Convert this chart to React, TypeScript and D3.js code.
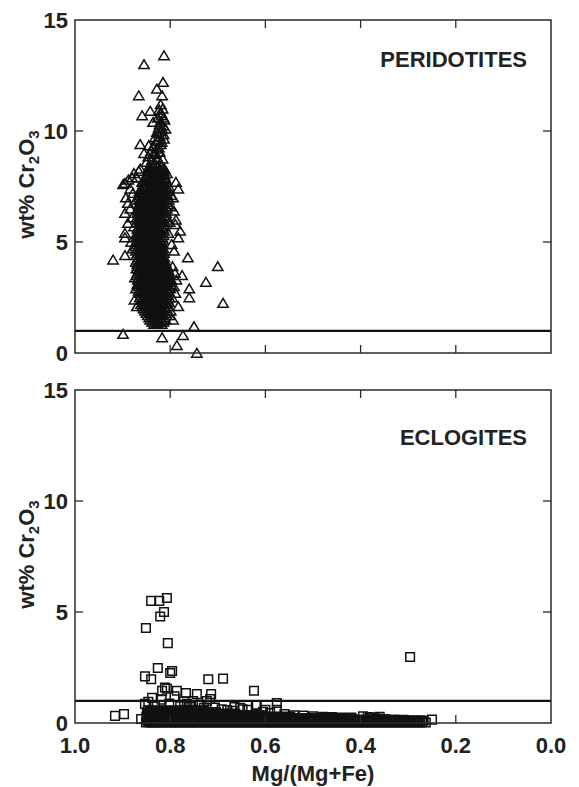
import React from "react";
import * as d3 from "d3";

const xTicks = [1.0, 0.8, 0.6, 0.4, 0.2, 0.0];
const yTicks = [0, 5, 10, 15];
const crThreshold = 1;
const panelLabels = ["PERIDOTITES", "ECLOGITES"];

// [Mg/(Mg+Fe), wt% Cr2O3] – individually read points
const peridotites: [number, number][] = [
  [.813,13.4],[.855,13.0],[.815,12.2],[.828,11.9],[.866,11.6],[.817,11.6],[.820,11.2],[.816,11.0],[.823,10.95],[.842,10.9],
  [.859,10.7],[.818,10.7],[.826,10.6],[.812,10.5],[.821,10.4],[.836,10.4],[.815,10.25],[.824,10.15],[.810,10.1],[.819,10.0],
  [.828,9.95],[.814,9.85],[.822,9.75],[.832,9.7],[.826,9.55],[.818,9.5],[.863,9.4],[.836,9.3],[.845,9.35],[.829,9.2],
  [.855,9.0],[.840,9.1],[.822,9.05],[.834,8.95],[.846,8.85],[.827,8.8],[.816,8.75],[.838,8.7],[.850,8.6],[.863,8.3],
  [.821,8.55],[.831,8.5],[.843,8.45],[.807,8.1],[.812,8.3],[.880,7.9],[.895,7.65],[.893,7.0],[.788,7.7],[.783,7.4],
  [.889,6.75],[.895,6.3],[.889,5.85],[.895,5.4],[.895,5.2],[.895,4.4],[.920,4.2],[.763,4.3],[.700,3.9],[.725,3.2],
  [.689,2.25],[.760,2.5],[.760,2.9],[.775,3.5],[.783,5.2],[.779,5.5],[.788,6.0],[.794,7.0],[.783,2.1],[.794,1.5],
  [.750,1.2],[.773,0.8],[.817,0.7],[.899,0.85],[.786,0.35],[.744,0.0],[.828,1.35],
  [.899,7.6],[.888,7.8],[.876,8.1],[.884,7.4],[.870,7.9],[.866,8.2],[.878,7.2],[.872,6.9],[.884,6.5],[.880,6.1],
  [.876,5.7],[.882,5.0],[.879,4.7],[.792,6.4],[.789,5.8],
  [.797,4.9],[.792,4.6],[.795,3.9],[.790,3.6],[.787,3.3],[.792,3.0],[.789,2.7],[.796,2.5],[.799,1.9],[.801,1.7],
  [.874,3.4],[.872,2.9],[.875,2.4],[.870,2.1],[.800,6.6],[.803,7.5],[.798,7.1],[.801,5.9],[.804,5.4],
  [.819,10.8],[.814,10.6],[.822,10.3],[.817,10.1],[.825,9.9],[.813,9.65],[.820,9.4],[.828,9.6],[.824,9.25],[.831,9.0],
];

// dense core of the peridotite cloud: [wt% Cr2O3, Mg/(Mg+Fe) values]
const peridotiteCoreRows: [number, number[]][] = [
  [8.4, [.818,.826,.835,.842]],
  [8.3, [.816,.823,.831,.839,.846]],
  [8.2, [.814,.822,.829,.838,.846]],
  [8.1, [.813,.818,.825,.832,.839,.847]],
  [8.0, [.812,.820,.827,.834,.841,.850]],
  [7.9, [.811,.820,.828,.836,.844,.852]],
  [7.8, [.809,.817,.825,.831,.839,.847,.856]],
  [7.7, [.808,.815,.822,.829,.837,.844,.852,.859]],
  [7.6, [.811,.818,.824,.833,.840,.848,.857]],
  [7.5, [.808,.814,.820,.827,.835,.843,.851,.858]],
  [7.4, [.806,.815,.822,.829,.836,.845,.853,.861]],
  [7.3, [.804,.811,.819,.826,.834,.841,.849,.858,.864]],
  [7.2, [.808,.816,.823,.830,.838,.846,.855,.863]],
  [7.1, [.806,.812,.819,.826,.834,.842,.850,.857,.865]],
  [7.0, [.805,.813,.821,.828,.835,.843,.851,.860,.866]],
  [6.9, [.803,.810,.817,.825,.833,.840,.848,.856,.864]],
  [6.8, [.807,.815,.822,.830,.837,.845,.853,.862]],
  [6.7, [.805,.812,.820,.828,.835,.843,.851,.859,.866]],
  [6.6, [.809,.817,.824,.832,.839,.847,.855,.864]],
  [6.5, [.807,.814,.822,.829,.837,.845,.853,.861,.868]],
  [6.4, [.811,.818,.826,.833,.841,.849,.858,.866]],
  [6.3, [.809,.816,.823,.830,.838,.846,.854,.862,.869]],
  [6.2, [.812,.820,.827,.835,.842,.850,.859,.867]],
  [6.1, [.810,.818,.825,.832,.840,.848,.856,.864,.870]],
  [6.0, [.814,.821,.828,.836,.844,.852,.860,.868]],
  [5.9, [.811,.818,.826,.834,.841,.849,.857,.865]],
  [5.8, [.813,.822,.830,.837,.845,.853,.861]],
  [5.7, [.812,.819,.827,.834,.842,.850,.858,.866]],
  [5.6, [.815,.823,.831,.838,.846,.854,.862,.869]],
  [5.5, [.813,.820,.828,.836,.843,.851,.859,.867]],
  [5.4, [.816,.824,.832,.839,.847,.855,.863,.870]],
  [5.3, [.814,.821,.829,.837,.844,.852,.860,.868]],
  [5.2, [.817,.825,.833,.841,.848,.856,.864,.871]],
  [5.1, [.815,.822,.830,.838,.845,.853,.861,.869]],
  [5.0, [.818,.826,.834,.842,.849,.857,.865,.872]],
  [4.9, [.815,.823,.831,.839,.846,.854,.862,.870]],
  [4.8, [.819,.827,.835,.843,.850,.858,.866,.873]],
  [4.7, [.814,.821,.829,.837,.845,.853,.861,.869]],
  [4.6, [.817,.825,.833,.841,.849,.857,.865,.872]],
  [4.5, [.813,.820,.828,.836,.844,.852,.860,.868]],
  [4.4, [.816,.824,.832,.840,.848,.856,.864,.871]],
  [4.3, [.812,.819,.827,.835,.843,.851,.859,.867]],
  [4.2, [.815,.823,.831,.839,.847,.855,.863,.870]],
  [4.1, [.810,.817,.825,.833,.841,.849,.857,.865,.872]],
  [4.0, [.813,.821,.829,.837,.845,.853,.861,.869]],
  [3.9, [.806,.813,.821,.829,.837,.845,.853,.861,.868]],
  [3.8, [.809,.817,.825,.833,.841,.849,.857,.865,.871]],
  [3.7, [.803,.810,.818,.826,.834,.842,.850,.858,.866]],
  [3.6, [.806,.814,.822,.830,.838,.846,.854,.862,.869]],
  [3.5, [.800,.807,.815,.823,.831,.839,.847,.855,.863,.870]],
  [3.4, [.803,.811,.819,.827,.835,.843,.851,.859,.867]],
  [3.3, [.798,.805,.813,.821,.829,.837,.845,.853,.861,.868]],
  [3.2, [.801,.809,.817,.825,.833,.841,.849,.857,.865]],
  [3.1, [.799,.807,.815,.823,.831,.839,.847,.855,.862,.869]],
  [3.0, [.803,.811,.819,.827,.835,.843,.851,.859,.866]],
  [2.9, [.800,.808,.816,.824,.832,.840,.848,.856,.863]],
  [2.8, [.804,.812,.820,.828,.836,.844,.852,.860,.866]],
  [2.7, [.801,.809,.817,.825,.833,.841,.849,.856,.863]],
  [2.6, [.806,.813,.821,.829,.837,.845,.853,.861]],
  [2.5, [.802,.809,.817,.825,.833,.841,.849,.857,.864]],
  [2.4, [.805,.812,.820,.828,.836,.844,.852,.860]],
  [2.3, [.803,.810,.818,.826,.834,.842,.850,.857]],
  [2.2, [.806,.814,.822,.830,.838,.846,.854,.861]],
  [2.1, [.804,.812,.820,.828,.836,.844,.852,.858]],
  [2.0, [.808,.816,.824,.832,.840,.848,.856]],
  [1.9, [.806,.814,.822,.830,.838,.846,.853]],
  [1.8, [.810,.818,.826,.834,.842,.850]],
  [1.7, [.808,.816,.824,.832,.840,.847]],
  [1.6, [.812,.820,.828,.836,.844]],
  [1.5, [.810,.818,.826,.834,.842]],
  [1.4, [.814,.822,.830,.838]],
  [1.3, [.818,.826,.834]],
];

const eclogites: [number, number][] = [
  [.840,5.5],[.823,5.5],[.807,5.63],[.813,5.0],[.821,4.8],[.851,4.28],[.805,3.6],[.826,2.48],[.796,2.34],[.800,2.25],
  [.853,2.1],[.840,1.97],[.720,1.97],[.689,2.0],[.624,1.45],[.811,1.6],[.807,1.55],[.786,1.45],[.767,1.35],[.744,1.3],
  [.714,1.3],[.716,1.08],[.817,1.45],[.838,1.13],[.853,0.86],[.897,0.4],[.916,0.32],[.861,0.18],[.653,0.68],[.618,0.81],
  [.765,0.86],[.752,0.99],[.723,0.99],[.296,2.97],[.576,0.9],[.576,0.6],[.620,0.81],[.600,0.6],[.648,0.62],[.250,0.15],
  [.270,0.05],[.278,0.08],
  [.846,.95],[.832,.78],[.818,1.05],[.802,.88],[.791,1.2],[.779,.75],[.771,.98],[.758,.72],[.738,.82],[.729,.68],
  [.706,.7],[.692,.62],[.680,.58],[.669,.55],[.665,.72],[.638,.6],[.605,.5],[.590,.45],[.560,.4],[.540,.35],
  [.520,.33],[.500,.3],[.480,.28],[.460,.27],[.440,.25],[.420,.24],[.380,.22],[.365,.2],[.360,.28],[.395,.3],
  [.350,.18],[.330,.15],[.310,.14],[.385,.27],[.372,.26],
];

// dense band of eclogite garnets near the axis: [wt% Cr2O3, Mg/(Mg+Fe) values]
const eclogiteBandRows: [number, number[]][] = [
  [0.02, [.851,.843,.836,.829,.821,.813,.806,.798,.790,.783,.775,.767,.759,.752,.744,.736,.728,.721,.713,.705,.697,.690,.682,.674,.666,.659,.651,.643,.635,.628,.620,.612,.604,.597,.589,.581,.573,.566,.558,.550,.542,.535,.527,.519,.511,.504,.496,.488,.480,.473,.465,.457,.449,.442,.434,.426,.418,.411,.403,.395,.387,.380,.372,.364,.356,.349,.341,.333,.325,.318,.310,.302,.294,.287,.279,.271,.263]],
  [0.08, [.847,.839,.832,.825,.817,.810,.802,.794,.787,.779,.771,.764,.756,.748,.740,.733,.725,.717,.709,.701,.694,.686,.678,.670,.663,.655,.647,.639,.632,.624,.616,.608,.600,.593,.585,.577,.569,.562,.554,.546,.538,.531,.523,.515,.507,.500,.492,.484,.476,.469,.461,.453,.445,.438,.430,.422,.414,.407,.399,.391,.383,.376,.368,.360,.352,.345,.337,.329,.321,.314,.306,.298,.290,.283,.275]],
  [0.14, [.848,.840,.832,.825,.817,.809,.802,.794,.786,.779,.771,.763,.755,.748,.740,.732,.724,.717,.709,.701,.693,.686,.678,.670,.662,.655,.647,.639,.631,.624,.616,.608,.600,.593,.585,.577,.569,.562,.554,.546,.538,.531,.523,.515,.507,.500,.492,.484,.476,.469,.461,.453,.445,.438,.430,.422,.414,.407,.399,.391,.383,.376,.368]],
  [0.11, [.360,.352,.345,.337,.329,.321,.313,.306,.298,.290,.283,.275,.268]],
  [0.21, [.846,.838,.830,.823,.815,.807,.800,.792,.784,.777,.769,.761,.753,.746,.738,.730,.722,.715,.707,.699,.691,.684,.676,.668,.660,.653,.645,.637,.629,.622,.614,.606,.598,.591,.583,.575,.567,.560,.552,.544,.536,.529,.521,.513,.505,.498,.490,.482,.474,.467,.459,.451,.443,.435,.427,.419]],
  [0.28, [.850,.842,.834,.827,.819,.811,.804,.796,.788,.781,.773,.765,.757,.750,.742,.734,.726,.719,.711,.703,.695,.688,.680,.672,.664,.657,.649,.641,.633,.626,.618,.610,.602,.595,.587,.579,.571,.564,.556,.548]],
  [0.35, [.845,.837,.830,.822,.814,.806,.799,.791,.783,.776,.768,.760,.752,.745,.737,.729,.721,.714,.706,.698,.690,.683,.675,.667,.659,.652,.644,.636,.628,.621,.613,.605]],
  [0.42, [.849,.841,.833,.826,.818,.810,.803,.795,.787,.780,.772,.764,.756,.749,.741,.733,.725,.718,.710,.702,.694,.687,.679,.671,.663]],
  [0.49, [.843,.835,.828,.820,.812,.804,.797,.789,.781,.774,.766,.758,.750,.743,.735,.727,.719,.712,.704]],
  [0.56, [.847,.839,.831,.824,.816,.808,.801,.793,.785,.777,.770,.762,.754,.746,.739,.731]],
];

const FONT = "'Liberation Sans', Arial, Helvetica, sans-serif";
const TRI = "M0,-4.6L5.2,4.2L-5.2,4.2Z";
const SQR = "M-4.3,-4.3h8.6v8.6h-8.6Z";

function expand(rows: [number, number[]][]): [number, number][] {
  const out: [number, number][] = [];
  rows.forEach(([cr, mgs]) => mgs.forEach((mg) => out.push([mg, cr])));
  return out;
}

export default function App() {
  const W = 579, H = 787;
  const left = 75, right = 551;
  const x = d3.scaleLinear().domain([1, 0]).range([left, right]);
  const panels = [
    { top: 20, bottom: 353, label: panelLabels[0], labelY: 67, data: [...peridotites, ...expand(peridotiteCoreRows)], mark: TRI, showX: false },
    { top: 390, bottom: 723, label: panelLabels[1], labelY: 445, data: [...eclogites, ...expand(eclogiteBandRows)], mark: SQR, showX: true },
  ];
  const tick = 8;
  const frameColor = "#2a2a2a";
  const fs = 22;
  return (
    <svg width={W} height={H} style={{ position: "absolute", left: 0, top: 0, background: "#fff" }} fontFamily={FONT}>
      {panels.map((p, i) => {
        const y = d3.scaleLinear().domain([0, 15]).range([p.bottom, p.top]);
        const midY = (p.top + p.bottom) / 2;
        return (
          <g key={i}>
            {p.data.map((d, j) => (
              <path key={j} d={p.mark} transform={`translate(${x(d[0])},${y(d[1])})`} fill="none" stroke="#111" strokeWidth={1.5} />
            ))}
            <line x1={left} x2={right} y1={y(crThreshold)} y2={y(crThreshold)} stroke="#111" strokeWidth={2.2} />
            <rect x={left} y={p.top} width={right - left} height={p.bottom - p.top} fill="none" stroke={frameColor} strokeWidth={1.5} />
            {xTicks.slice(1, -1).map((t) => (
              <g key={t}>
                <line x1={x(t)} x2={x(t)} y1={p.top} y2={p.top + tick} stroke={frameColor} strokeWidth={1.3} />
                <line x1={x(t)} x2={x(t)} y1={p.bottom} y2={p.bottom - tick} stroke={frameColor} strokeWidth={1.3} />
              </g>
            ))}
            {yTicks.slice(1, -1).map((t) => (
              <g key={t}>
                <line x1={left} x2={left + tick} y1={y(t)} y2={y(t)} stroke={frameColor} strokeWidth={1.3} />
                <line x1={right} x2={right - tick} y1={y(t)} y2={y(t)} stroke={frameColor} strokeWidth={1.3} />
              </g>
            ))}
            {yTicks.map((t) => (
              <text key={t} x={68} y={y(t)} textAnchor="end" dominantBaseline="central" fontSize={fs} fontWeight="bold" fill="#222">
                {t}
              </text>
            ))}
            {p.showX &&
              xTicks.map((t) => (
                <text key={t} x={x(t)} y={753} textAnchor="middle" fontSize={fs} fontWeight="bold" fill="#222">
                  {t.toFixed(1)}
                </text>
              ))}
            <text x={527} y={p.labelY} textAnchor="end" fontSize={fs} fontWeight="bold" fill="#222">
              {p.label}
            </text>
            <text transform={`translate(34,${midY - 2}) rotate(-90)`} textAnchor="middle" fontSize={fs} fontWeight="bold" fill="#222">
              wt% Cr<tspan dy={5} fontSize={15}>2</tspan><tspan dy={-5}>O</tspan><tspan dy={5} fontSize={15}>3</tspan>
            </text>
          </g>
        );
      })}
      <text x={(left + right) / 2} y={781} textAnchor="middle" fontSize={fs} fontWeight="bold" fill="#222">
        Mg/(Mg+Fe)
      </text>
    </svg>
  );
}
